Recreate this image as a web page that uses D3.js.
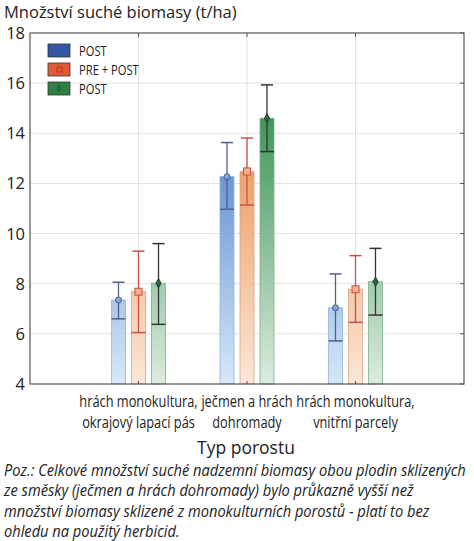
<!DOCTYPE html>
<html>
<head>
<meta charset="utf-8">
<script src="https://cdn.jsdelivr.net/npm/d3@7"></script>
<style>
  body { margin: 0; background: #fff; }
  svg { display: block; }
</style>
</head>
<body>
<svg id="chart" width="474" height="541"></svg>
<script>
// values
const categories = [
  ["hrách monokultura,", "okrajový lapací pás"],
  ["ječmen a hrách", "dohromady"],
  ["hrách monokultura,", "vnitřní parcely"]
];
const seriesNames = ["POST", "PRE + POST", "POST"];
const means = [
  [7.35, 12.27, 7.04],
  [7.68, 12.48, 7.78],
  [8.02, 14.6, 8.08]
];
const upper = [
  [8.06, 13.63, 8.39],
  [9.3, 13.81, 9.12],
  [9.6, 15.93, 9.41]
];
const lower = [
  [6.6, 10.97, 5.72],
  [6.05, 11.14, 6.46],
  [6.38, 13.27, 6.75]
];
const yTicks = [4, 6, 8, 10, 12, 14, 16, 18];
const caption = [
  "Poz.: Celkové množství suché nadzemní biomasy obou plodin sklizených",
  "ze směsky (ječmen a hrách dohromady) bylo průkazně vyšší než",
  "množství biomasy sklizené z monokulturních porostů - platí to bez",
  "ohledu na použitý herbicid."
];

const colors = [
  { top: "#3b72c2", bottom: "#d6e8f8", stroke: "#8fb4e0", err: "#4f5f8c", legend: "#3557a4", marker: "circle" },
  { top: "#e8853c", bottom: "#fbe7d8", stroke: "#d9a385", err: "#c9504a", legend: "#e05a36", marker: "square" },
  { top: "#2b8a48", bottom: "#dcecdf", stroke: "#7fb08d", err: "#333333", legend: "#2e8044", marker: "diamond" }
];

const svg = d3.select("#chart");
const font = "'Open Sans', 'DejaVu Sans', sans-serif";
const narrowScale = 0.8; // condensed look

const mLeft = 30, mRight = 464, mTop = 33, mBottom = 384;

const x = d3.scaleLinear().domain([0, categories.length + 1]).range([mLeft, mRight]);
const y = d3.scaleLinear().domain([4, 18]).range([mBottom, mTop]);
const barW = 14, step = 20;

// gradients
const defs = svg.append("defs");
colors.forEach((c, i) => {
  const g = defs.append("linearGradient").attr("id", "grad" + i)
    .attr("gradientUnits", "userSpaceOnUse")
    .attr("x1", 0).attr("x2", 0)
    .attr("y1", y(16)).attr("y2", mBottom);
  g.append("stop").attr("offset", "0%").attr("stop-color", c.top);
  g.append("stop").attr("offset", "100%").attr("stop-color", c.bottom);
});

// grid
svg.append("g").selectAll("line").data(yTicks.slice(1, -1)).join("line")
  .attr("x1", mLeft).attr("x2", mRight)
  .attr("y1", d => y(d)).attr("y2", d => y(d))
  .attr("stroke", "#e2e2e2").attr("stroke-width", 1);
svg.append("g").selectAll("line").data(categories).join("line")
  .attr("x1", (d, i) => x(i + 1)).attr("x2", (d, i) => x(i + 1))
  .attr("y1", mTop).attr("y2", mBottom)
  .attr("stroke", "#e2e2e2").attr("stroke-width", 1);

// bars
categories.forEach((cat, ci) => {
  seriesNames.forEach((s, si) => {
    const cx = x(ci + 1) + (si - 1) * step;
    const c = colors[si];
    const g = svg.append("g");
    g.append("rect")
      .attr("x", cx - barW / 2).attr("y", y(means[si][ci]))
      .attr("width", barW).attr("height", mBottom - y(means[si][ci]))
      .attr("fill", `url(#grad${si})`)
      .attr("stroke", c.stroke).attr("stroke-width", 0.8);
    // error bar
    g.append("line")
      .attr("x1", cx).attr("x2", cx)
      .attr("y1", y(upper[si][ci])).attr("y2", y(lower[si][ci]))
      .attr("stroke", c.err).attr("stroke-width", 1.3);
    g.append("line")
      .attr("x1", cx - 6).attr("x2", cx + 6)
      .attr("y1", y(upper[si][ci])).attr("y2", y(upper[si][ci]))
      .attr("stroke", c.err).attr("stroke-width", 1.5);
    g.append("line")
      .attr("x1", cx - barW / 2).attr("x2", cx + barW / 2)
      .attr("y1", y(lower[si][ci])).attr("y2", y(lower[si][ci]))
      .attr("stroke", c.err).attr("stroke-width", 1.5);
    // marker
    const my = y(means[si][ci]);
    if (c.marker === "circle") {
      g.append("circle").attr("cx", cx).attr("cy", my).attr("r", 3)
        .attr("fill", "#7fa6dc").attr("stroke", c.err).attr("stroke-width", 1);
    } else if (c.marker === "square") {
      g.append("rect").attr("x", cx - 3.5).attr("y", my - 3.5).attr("width", 7).attr("height", 7)
        .attr("fill", "#f0b08a").attr("stroke", c.err).attr("stroke-width", 1);
    } else {
      g.append("path").attr("d", d3.symbol(d3.symbolDiamond, 24)())
        .attr("transform", `translate(${cx},${my})`)
        .attr("fill", "#2b6a3c").attr("stroke", c.err).attr("stroke-width", 1);
    }
  });
});

// frame
svg.append("rect").attr("x", mLeft).attr("y", mTop)
  .attr("width", mRight - mLeft).attr("height", mBottom - mTop)
  .attr("fill", "none").attr("stroke", "#555").attr("stroke-width", 1.2);

// inner ticks
svg.append("g").selectAll("line").data(yTicks).join("line")
  .attr("x1", mRight - 4).attr("x2", mRight)
  .attr("y1", d => y(d)).attr("y2", d => y(d))
  .attr("stroke", "#555");
svg.append("g").selectAll("line").data(categories).join("line")
  .attr("x1", (d, i) => x(i + 1)).attr("x2", (d, i) => x(i + 1))
  .attr("y1", mTop).attr("y2", mTop + 4)
  .attr("stroke", "#555");
svg.append("g").selectAll("line").data(categories).join("line")
  .attr("x1", (d, i) => x(i + 1)).attr("x2", (d, i) => x(i + 1))
  .attr("y1", mBottom).attr("y2", mBottom - 3)
  .attr("stroke", "#555");

// y tick labels
svg.append("g").selectAll("text").data(yTicks).join("text")
  .attr("x", mLeft - 5).attr("y", d => y(d))
  .attr("dy", "0.36em")
  .attr("text-anchor", "end")
  .attr("font-family", font).attr("font-size", 16.5)
  .attr("fill", "#222")
  .text(d => d);

// x tick labels (condensed)
categories.forEach((cat, ci) => {
  cat.forEach((line, li) => {
    svg.append("text")
      .attr("transform", `translate(${x(ci + 1)},${407 + li * 21}) scale(${narrowScale},1)`)
      .attr("text-anchor", "middle")
      .attr("font-family", font).attr("font-size", 16)
      .attr("fill", "#222")
      .text(line);
  });
});

// axis titles
svg.append("text").attr("x", 4).attr("y", 18)
  .attr("font-family", font).attr("font-size", 16.5).attr("fill", "#222")
  .text("Množství suché biomasy (t/ha)");
svg.append("text").attr("x", 246).attr("y", 454)
  .attr("text-anchor", "middle")
  .attr("font-family", font).attr("font-size", 17.5).attr("fill", "#222")
  .text("Typ porostu");

// legend
const leg = svg.append("g");
seriesNames.forEach((s, i) => {
  const ly = 44 + i * 19;
  leg.append("rect").attr("x", 48).attr("y", ly).attr("width", 22).attr("height", 13)
    .attr("fill", colors[i].legend).attr("stroke", "#333").attr("stroke-width", 0.8);
  if (i === 1) {
    leg.append("rect").attr("x", 57).attr("y", ly + 4).attr("width", 5).attr("height", 5)
      .attr("fill", "none").attr("stroke", "#a8342a").attr("stroke-width", 0.8);
  } else if (i === 2) {
    leg.append("path").attr("d", d3.symbol(d3.symbolDiamond, 10)())
      .attr("transform", `translate(59,${ly + 6.5})`)
      .attr("fill", "none").attr("stroke", "#1b4a28").attr("stroke-width", 0.8);
  }
  leg.append("text")
    .attr("transform", `translate(79,${ly + 6.5}) scale(${narrowScale},1)`)
    .attr("dy", "0.36em")
    .attr("font-family", font).attr("font-size", 14).attr("fill", "#222")
    .text(s);
});

// caption
svg.append("g").attr("transform", "translate(4,0) scale(0.945,1)")
  .selectAll("text").data(caption).join("text")
  .attr("x", 0).attr("y", (d, i) => 476 + i * 20.5)
  .attr("font-family", font).attr("font-style", "italic")
  .attr("font-size", 15.5).attr("fill", "#222")
  .text(d => d);
</script>
</body>
</html>
